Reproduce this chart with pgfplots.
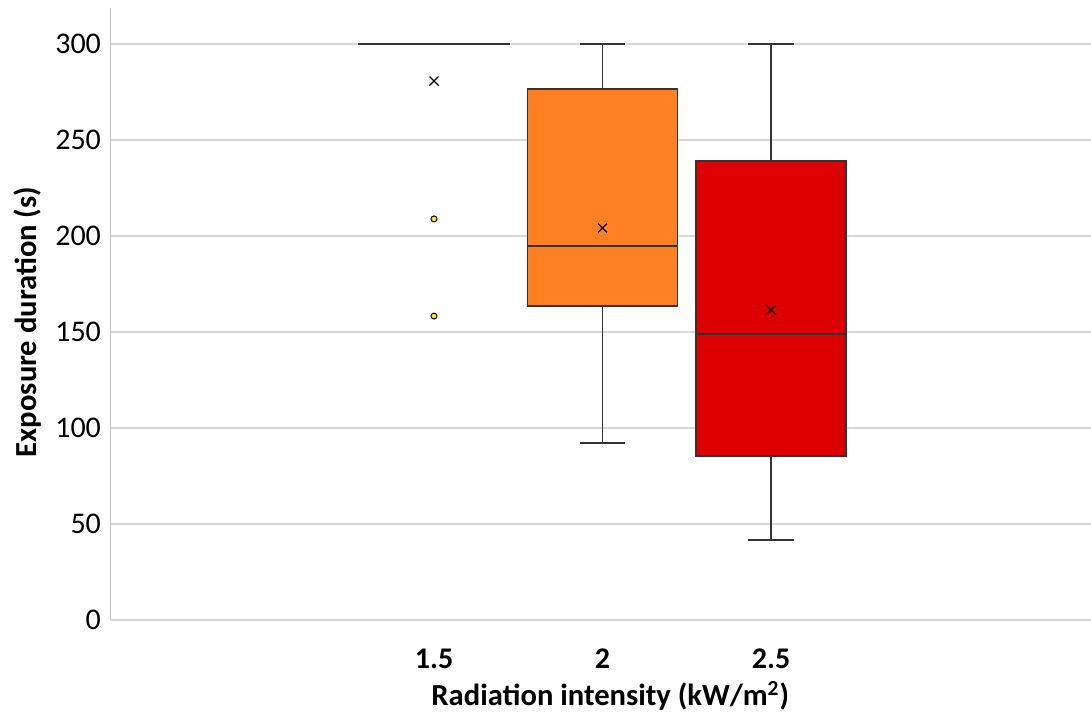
\documentclass[border=0pt]{standalone}
\usepackage{fontspec}
\setmainfont{Carlito}
\usepackage{pgfplots}
\usepgfplotslibrary{statistics}
\pgfplotsset{compat=1.18}
\definecolor{boxorange}{RGB}{255,128,34}
\definecolor{boxred}{RGB}{221,0,0}
\definecolor{gridgray}{RGB}{217,217,217}
\definecolor{edge}{RGB}{51,51,51}
\begin{document}
\begin{tikzpicture}
\useasboundingbox (-55pt,-46.5pt) rectangle (490.5pt,310pt);
\begin{axis}[
  at={(0,0)}, anchor=south west,
  scale only axis, width=490.5pt, height=306pt,
  xmin=-0.923, xmax=4.899,
  ymin=0, ymax=318.75,
  axis y line*=left, axis x line*=bottom,
  x axis line style={draw=gridgray},
  y axis line style={draw=gridgray!90!black},
  major tick length=0pt,
  xtick={1,2,3}, xticklabels={\textbf{1.5},\textbf{2},\textbf{2.5}},
  ytick={0,50,100,150,200,250,300},
  ymajorgrids, grid style={draw=gridgray, line width=0.6pt},
  /pgf/number format/assume math mode=true,
  tick label style={font=\fontsize{15}{17}\selectfont},
  xticklabel style={yshift=-11pt},
  yticklabel style={xshift=-1pt},
  label style={font=\fontsize{15.3}{17}\selectfont\bfseries},
  xlabel={Radiation intensity (kW/m\textsuperscript{2})},
  ylabel={Exposure duration (s)},
  x label style={at={(axis description cs:0.51,0)}, anchor=center, yshift=-38pt},
  y label style={at={(axis description cs:-0.0836,0.487)}, anchor=center},
  boxplot/draw direction=y,
  boxplot/box extend=0.89,
  boxplot/whisker extend=0.27,
  clip=false,
]
\addplot[draw=edge, line width=0.7pt] coordinates {(0.55,300) (1.45,300)};
\addplot[draw=edge, fill=boxorange, line width=0.7pt, boxplot prepared={median=194.8, upper quartile=276.6, lower quartile=163.5, upper whisker=300, lower whisker=92.2, draw position=2}] coordinates {};
\addplot[draw=edge, fill=boxred, line width=0.7pt, boxplot prepared={median=149.0, upper quartile=239.1, lower quartile=85.4, upper whisker=300, lower whisker=41.7, draw position=3}] coordinates {};
\addplot[only marks, mark=x, mark size=3.2pt, mark options={draw=black, line width=0.6pt}] coordinates {(1,280.7) (2,204.2) (3,161.5)};
\addplot[only marks, mark=*, mark size=1.5pt, mark options={fill=yellow, draw=black, line width=0.5pt}] coordinates {(1,208.9) (1,158.3)};
\end{axis}
\end{tikzpicture}
\end{document}
